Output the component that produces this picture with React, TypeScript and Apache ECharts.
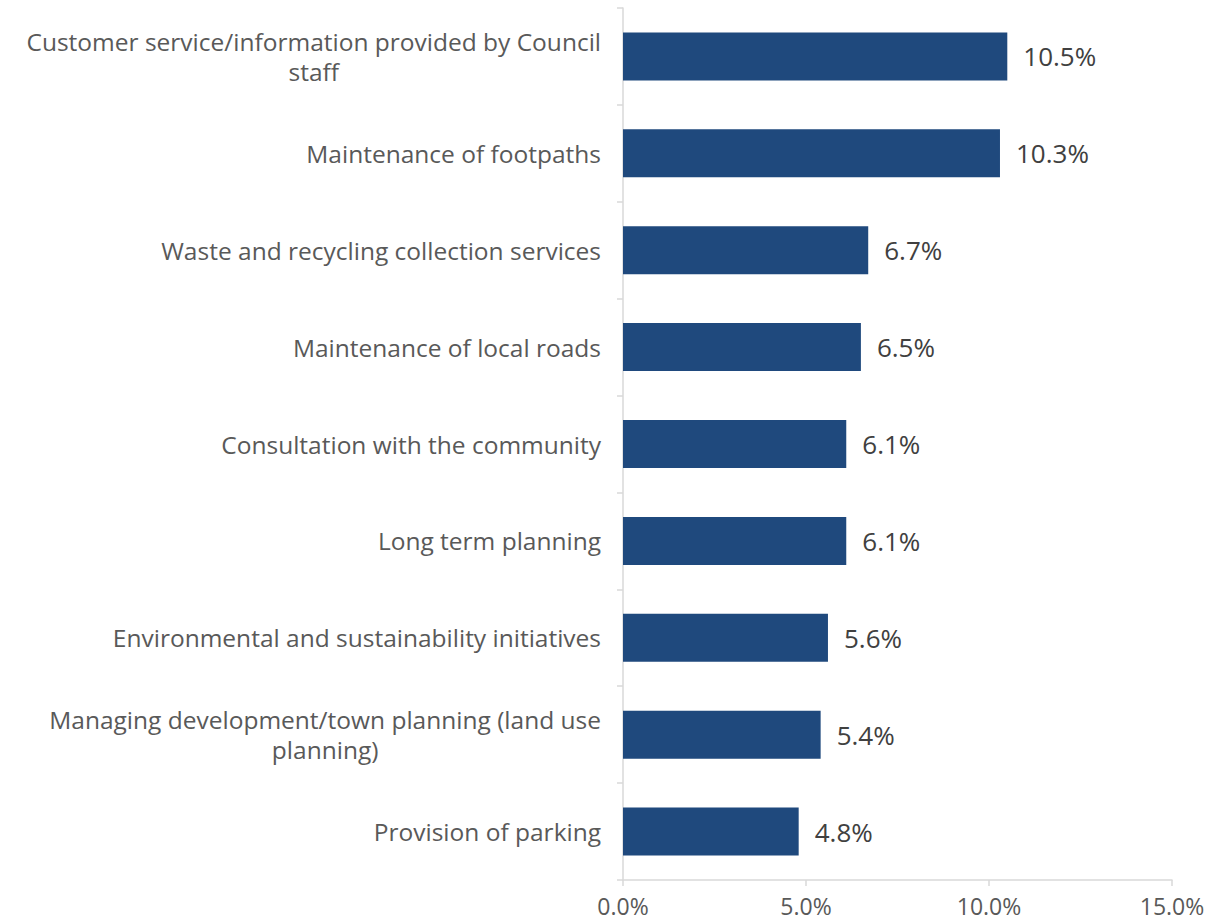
import React, { useEffect, useRef } from "react";
import * as echarts from "echarts";

const categories = [
  "Customer service/information provided by Council\nstaff",
  "Maintenance of footpaths",
  "Waste and recycling collection services",
  "Maintenance of local roads",
  "Consultation with the community",
  "Long term planning",
  "Environmental and sustainability initiatives",
  "Managing development/town planning (land use\nplanning)",
  "Provision of parking",
];
const values = [10.5, 10.3, 6.7, 6.5, 6.1, 6.1, 5.6, 5.4, 4.8];
const xTicks = [0, 5, 10, 15];

const FONT = "Open Sans";

export default function App() {
  const ref = useRef<HTMLDivElement>(null);
  useEffect(() => {
    const chart = echarts.init(ref.current!, null, { renderer: "svg" });
    chart.setOption({
      animation: false,
      grid: { left: 623, right: 34, top: 8, bottom: 44, containLabel: false, outerBoundsMode: "none" },
      xAxis: {
        type: "value",
        min: xTicks[0],
        max: xTicks[xTicks.length - 1],
        interval: xTicks[1] - xTicks[0],
        axisLine: { show: true, lineStyle: { color: "#d9d9d9", width: 1.5 } },
        axisTick: { show: true, length: 6, lineStyle: { color: "#d9d9d9", width: 1.5 } },
        splitLine: { show: false },
        axisLabel: {
          formatter: (v: number) => v.toFixed(1) + "%",
          color: "#595959",
          fontFamily: FONT,
          fontSize: 23,
          margin: 14,
        },
      },
      yAxis: {
        type: "category",
        inverse: true,
        data: categories,
        axisLine: { show: true, lineStyle: { color: "#d9d9d9", width: 1.5 } },
        axisTick: { show: true, length: 6, lineStyle: { color: "#d9d9d9", width: 1.5 } },
        axisLabel: {
          color: "#595959",
          fontFamily: FONT,
          fontSize: 24.5,
          margin: 22,
          lineHeight: 30,
          formatter: (v: string) =>
            v
              .split("\n")
              .map((l) => "{c|" + l + "}")
              .join("\n"),
          rich: {
            c: {
              align: "center",
              color: "#595959",
              fontFamily: FONT,
              fontSize: 24.5,
              lineHeight: 30,
            },
          },
        },
      },
      series: [
        {
          type: "bar",
          data: values,
          barWidth: 48,
          itemStyle: { color: "#1F497D" },
          label: {
            show: true,
            position: "right",
            distance: 16,
            formatter: (p: any) => p.value.toFixed(1) + "%",
            color: "#404040",
            fontFamily: FONT,
            fontSize: 26,
          },
        },
      ],
    });
    return () => chart.dispose();
  }, []);
  return (
    <div
      ref={ref}
      style={{ position: "fixed", left: 0, top: 0, width: 1206, height: 924, background: "#fff" }}
    />
  );
}
